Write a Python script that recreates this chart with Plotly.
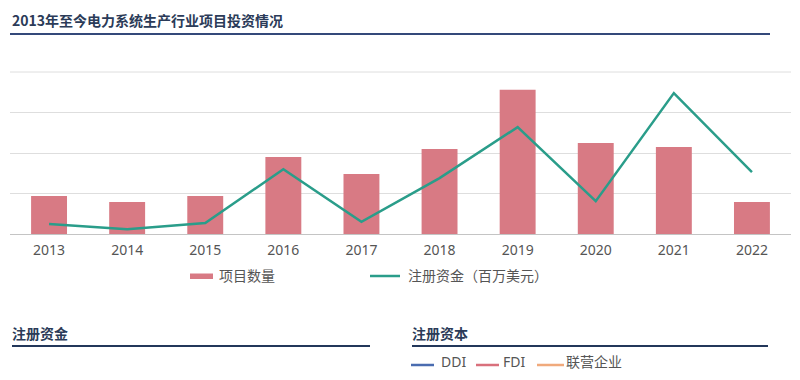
import plotly.graph_objects as go

years = ["2013", "2014", "2015", "2016", "2017", "2018", "2019", "2020", "2021", "2022"]
project_counts = [9.4, 7.9, 9.4, 19, 14.8, 21, 35.6, 22.5, 21.5, 7.9]
registered_capital = [25, 12, 27, 160, 30, 138, 264, 81, 348, 153]

title_text = "2013年至今电力系统生产行业项目投资情况"
legend_bar = "项目数量"
legend_line = "注册资金（百万美元）"
section_left = "注册资金"
section_right = "注册资本"
sub_legend = ["DDI", "FDI", "联营企业"]

# page body has an 8px margin; layout coordinates below are page pixels
OX, OY = 8, 8
W, H = 784, 364
PLOT_L, PLOT_R, PLOT_T, PLOT_B = 10, 791, 72, 234
L = PLOT_L - OX
R = W - (PLOT_R - OX)
T = PLOT_T - OY
B = H - (PLOT_B - OY)
PW = W - L - R
PH = H - T - B

BAR_C = "#d87a84"
LINE_C = "#2a9d8a"
NAVY = "#2b3b58"
FONT = "Noto Sans, Noto Sans CJK SC, sans-serif"
CJK = "Noto Sans CJK SC, sans-serif"


def px(x):
    return (x - OX - L) / PW


def py(y):
    return (H - B - (y - OY)) / PH


fig = go.Figure()
fig.add_trace(go.Bar(x=years, y=project_counts, marker=dict(color=BAR_C, line=dict(width=0)),
                     name=legend_bar, showlegend=False))
fig.add_trace(go.Scatter(x=years, y=registered_capital, mode="lines", yaxis="y2",
                         line=dict(color=LINE_C, width=2.5), name=legend_line, showlegend=False))

shapes = []
annotations = []

# title + underline
annotations.append(dict(x=px(10), y=py(20), xref="paper", yref="paper", xanchor="left", yanchor="middle",
                        text=title_text, showarrow=False,
                        font=dict(family=CJK, size=14, color=NAVY, weight=600)))
shapes.append(dict(type="line", xref="paper", yref="paper", x0=px(10), x1=px(770), y0=py(34), y1=py(34),
                   line=dict(color="#34497a", width=2)))

# top gridline (edge of the plot area)
shapes.append(dict(type="line", xref="paper", yref="paper", x0=0, x1=1, y0=1, y1=1,
                   line=dict(color="#dedede", width=1)))

# main legend
shapes.append(dict(type="rect", xref="paper", yref="paper", x0=px(190), x1=px(213), y0=py(273.5), y1=py(279),
                   fillcolor=BAR_C, line=dict(width=0)))
annotations.append(dict(x=px(217), y=py(275), xref="paper", yref="paper", xanchor="left", yanchor="middle",
                        text=legend_bar, showarrow=False, font=dict(family=CJK, size=14, color="#555")))
shapes.append(dict(type="line", xref="paper", yref="paper", x0=px(370), x1=px(400), y0=py(276), y1=py(276),
                   line=dict(color=LINE_C, width=2.5)))
annotations.append(dict(x=px(406), y=py(275), xref="paper", yref="paper", xanchor="left", yanchor="middle",
                        text=legend_line, showarrow=False, font=dict(family=CJK, size=14, color="#555")))

# lower sections
for x0, x1, txt in [(10, 370, section_left), (410, 768, section_right)]:
    annotations.append(dict(x=px(x0), y=py(333), xref="paper", yref="paper", xanchor="left", yanchor="middle",
                            text=txt, showarrow=False,
                            font=dict(family=CJK, size=14, color=NAVY, weight=600)))
    shapes.append(dict(type="line", xref="paper", yref="paper", x0=px(x0 + 2), x1=px(x1), y0=py(346), y1=py(346),
                       line=dict(color="#23375a", width=2)))

sub_colors = ["#4a6cb0", "#d9707c", "#f0aa7c"]
sub_pos = [(411, 434, 440), (476, 499, 502), (537, 564, 565)]
for (a, b, t), c, name in zip(sub_pos, sub_colors, sub_legend):
    shapes.append(dict(type="line", xref="paper", yref="paper", x0=px(a), x1=px(b), y0=py(365), y1=py(365),
                       line=dict(color=c, width=2.5)))
    annotations.append(dict(x=px(t), y=0 - B / PH, xref="paper", yref="paper", xanchor="left", yanchor="bottom",
                            text=name, showarrow=False, borderpad=0,
                            font=dict(family=FONT, size=14, color="#555")))

fig.update_layout(
    width=W, height=H,
    margin=dict(l=L, r=R, t=T, b=B, pad=0),
    paper_bgcolor="white", plot_bgcolor="white",
    bargap=0.54,
    showlegend=False,
    font=dict(family=FONT, size=14, color="#555"),
    xaxis=dict(type="category", showgrid=False, ticks="", showline=True, linecolor="#c4c4c4", linewidth=1,
               tickfont=dict(family=FONT, size=14, color="#555"), ticklabelstandoff=3),
    yaxis=dict(range=[0, 40], dtick=10, showgrid=True, gridcolor="#dedede", gridwidth=1,
               showticklabels=False, zeroline=False, ticks=""),
    yaxis2=dict(range=[0, 400], overlaying="y", side="right", showgrid=False, showticklabels=False,
                zeroline=False, ticks=""),
    shapes=shapes,
    annotations=annotations,
)

fig.write_html("out.html")
